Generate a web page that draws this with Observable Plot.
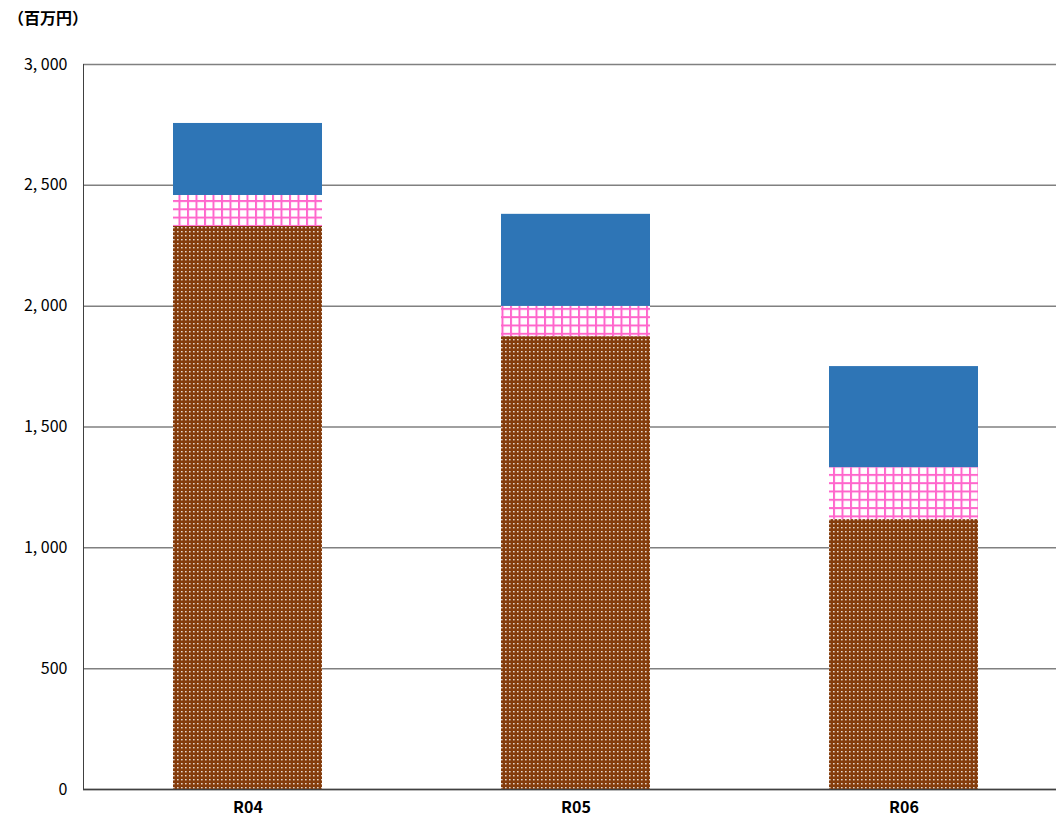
<!DOCTYPE html>
<html>
<head>
<meta charset="utf-8">
<script src="https://cdn.jsdelivr.net/npm/d3@7"></script>
<script src="https://cdn.jsdelivr.net/npm/@observablehq/plot@0.6"></script>
<style>
  html, body { margin: 0; padding: 0; background: #fff; overflow: hidden; width: 1056px; height: 822px; }
  #unit { height: 34px; font-family: "Noto Sans CJK JP", sans-serif; font-weight: bold; font-size: 16px; line-height: 34px; padding-left: 8px; color: #000; }
  #chart svg { display: block; max-width: none !important; }
</style>
</head>
<body>
<div id="unit">（百万円）</div>
<div id="chart"></div>
<script>
const years = ["R04", "R05", "R06"];
const seriesNames = ["系列1", "系列2", "系列3"];
const brownVals = [2330, 1874, 1117];
const pinkVals = [128, 125, 215];
const blueVals = [298, 381, 418];
const yTicks = [0, 500, 1000, 1500, 2000, 2500, 3000];
const yTickLabels = ["0", "500", "1, 000", "1, 500", "2, 000", "2, 500", "3, 000"];

const rows = [];
[brownVals, pinkVals, blueVals].forEach((vals, si) => {
  years.forEach((yr, i) => rows.push({year: yr, series: seriesNames[si], value: vals[i]}));
});

const svg = Plot.plot({
  width: 1067,
  height: 788,
  marginLeft: 83,
  marginRight: 0,
  marginTop: 30,
  marginBottom: 33,
  style: {fontFamily: "'Noto Sans CJK JP', sans-serif", fontSize: "16px", color: "#000", background: "#fff", maxWidth: "none"},
  x: {domain: years, paddingInner: 0.546, paddingOuter: 0.273, label: null},
  y: {domain: [0, 3000], label: null},
  color: {domain: seriesNames, range: ["url(#pBrown)", "url(#pPink)", "#2E75B6"]},
  marks: [
    Plot.gridY(yTicks, {stroke: "#808080", strokeOpacity: 1, strokeWidth: 1.5}),
    Plot.barY(rows, {x: "year", y: "value", fill: "series", order: seriesNames}),
    Plot.axisY(yTicks, {tickSize: 0, tickPadding: 16, tickFormat: (d) => yTickLabels[yTicks.indexOf(d)], fontSize: 16}),
    Plot.axisX({tickSize: 0, tickPadding: 12, fontSize: 16, fontWeight: "bold"}),
    Plot.frame({anchor: "left", stroke: "#404040", strokeWidth: 1}),
    Plot.ruleY([0], {stroke: "#404040", strokeWidth: 1.5})
  ]
});

d3.select(svg).insert("defs", ":first-child").html(`
  <pattern id="pBrown" patternUnits="userSpaceOnUse" width="4" height="4">
    <rect width="4" height="4" fill="#843C0C"></rect>
    <rect x="1" y="1" width="1.6" height="1.4" fill="#ffffff" fill-opacity="0.8"></rect>
  </pattern>
  <pattern id="pPink" patternUnits="userSpaceOnUse" width="8.5" height="8.3">
    <rect width="8.5" height="8.3" fill="#ffffff"></rect>
    <rect x="0" y="0" width="2" height="8.3" fill="#FF66CC"></rect>
    <rect x="0" y="0" width="8.5" height="2" fill="#FF66CC"></rect>
  </pattern>
`);

document.getElementById("chart").appendChild(svg);
</script>
</body>
</html>
